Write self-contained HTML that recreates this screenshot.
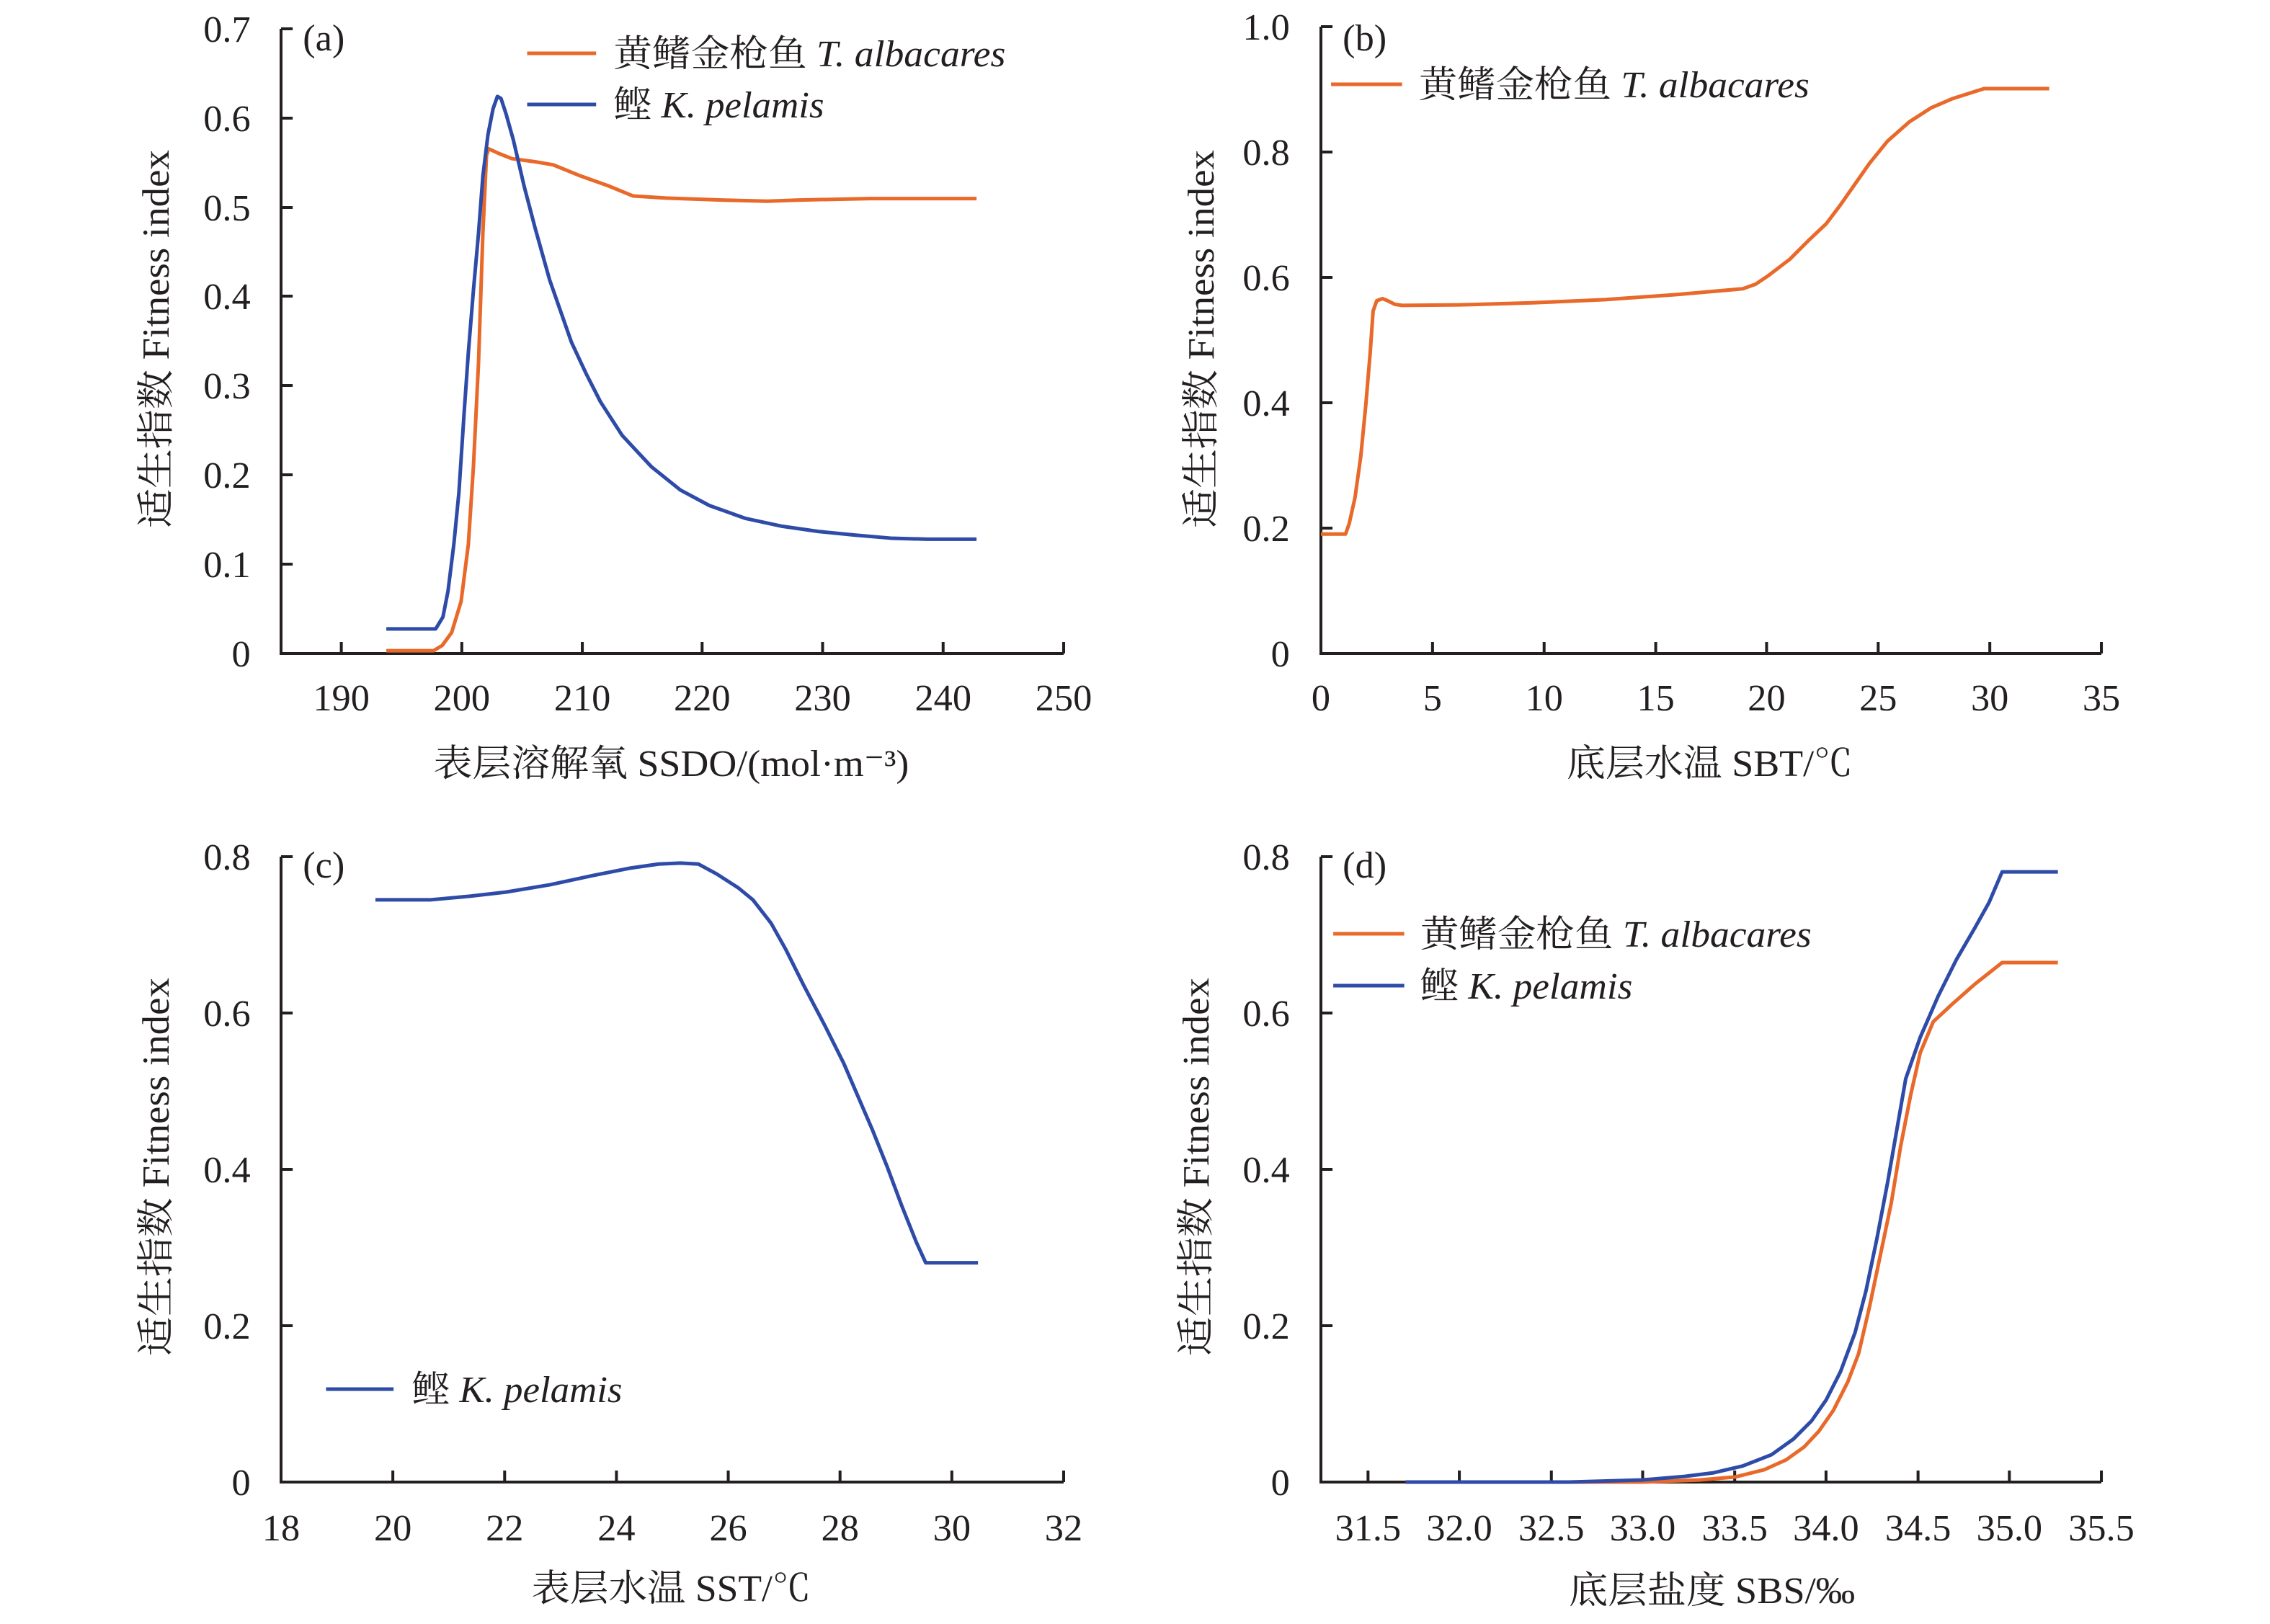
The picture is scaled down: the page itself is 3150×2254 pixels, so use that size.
<!DOCTYPE html>
<html><head><meta charset="utf-8"><style>
html,body{margin:0;padding:0;background:#fff;}
svg{display:block;}
text{font-family:"Liberation Serif","Noto Serif CJK SC",serif;fill:#231f20;}
.t{font-size:52px;}
.ax{stroke:#231f20;stroke-width:4;fill:none;}
.cv{fill:none;stroke-width:5;stroke-linejoin:round;}
.o{stroke:#e8692a;}
.b{stroke:#2e4ba8;}
</style></head><body>
<svg width="3150" height="2254" viewBox="0 0 3150 2254" xmlns="http://www.w3.org/2000/svg">

<!-- PANEL A -->
<g transform="translate(390,0) scale(1.0074,1) translate(-390,0)">
<g class="ax">
<path d="M390,40 V907 H1468"/>
<path d="M390,40 h16 M390,164 h16 M390,288 h16 M390,411 h16 M390,535 h16 M390,659 h16 M390,783 h16"/>
<path d="M473,907 v-16 M639,907 v-16 M805,907 v-16 M970,907 v-16 M1136,907 v-16 M1302,907 v-16 M1468,907 v-16"/>
</g>
<g class="cv" transform="scale(1,0.7196)">
<polyline vector-effect="non-scaling-stroke" class="o" points="535,1255 600,1255 612,1245 625,1220 638,1160 648,1050 655,900 662,700 668,450 673,300 676,287 690,296 708,306 740,312 765,318 800,338 840,358 875,378 920,382 1000,386 1060,388 1100,386 1200,383 1348,383"/>
<polyline vector-effect="non-scaling-stroke" class="b" points="535,1213 603,1213 613,1190 620,1140 628,1050 635,950 642,800 648,680 655,560 662,450 668,340 675,260 682,210 688,186 693,190 700,220 710,270 725,360 740,440 760,540 775,600 790,660 810,720 830,775 860,840 900,900 940,945 980,975 1030,1000 1080,1015 1130,1025 1180,1032 1230,1038 1280,1040 1348,1040"/>
</g>
<path class="cv o" d="M729,74 H824"/>
<path class="cv b" d="M729,145 H824"/>
<g class="t">
<g text-anchor="end">
<text x="348" y="925">0</text><text x="348" y="801">0.1</text><text x="348" y="677">0.2</text><text x="348" y="553">0.3</text><text x="348" y="429">0.4</text><text x="348" y="306">0.5</text><text x="348" y="182">0.6</text><text x="348" y="58">0.7</text>
</g>
<g text-anchor="middle">
<text x="473" y="986">190</text><text x="639" y="986">200</text><text x="805" y="986">210</text><text x="970" y="986">220</text><text x="1136" y="986">230</text><text x="1302" y="986">240</text><text x="1468" y="986">250</text>
</g>
<text x="600" y="1077" textLength="655" lengthAdjust="spacingAndGlyphs">表层溶解氧 SSDO/(mol·m⁻³)</text>
<text transform="translate(235,733) rotate(-90)" textLength="525" lengthAdjust="spacingAndGlyphs">适生指数 Fitness index</text>
<text x="420" y="70">(a)</text>
<text x="848" y="92" textLength="540" lengthAdjust="spacingAndGlyphs">黄鳍金枪鱼 <tspan font-style="italic">T. albacares</tspan></text>
<text x="848" y="163" textLength="290" lengthAdjust="spacingAndGlyphs">鲣 <tspan font-style="italic">K. pelamis</tspan></text>
</g>
</g>

<!-- PANEL B -->
<g transform="translate(1833,0) scale(1.0056,1) translate(-1833,0)">
<g class="ax">
<path d="M1833,37 V907 H2910"/>
<path d="M1833,37 h16 M1833,211 h16 M1833,385 h16 M1833,559 h16 M1833,733 h16"/>
<path d="M1987,907 v-16 M2141,907 v-16 M2295,907 v-16 M2448,907 v-16 M2602,907 v-16 M2756,907 v-16 M2910,907 v-16"/>
</g>
<g class="cv" transform="translate(1575,0) scale(1,0.7196)">
<polyline vector-effect="non-scaling-stroke" class="o" points="258,1030 292,1030 297,1010 305,960 313,880 320,780 326,680 330,600 335,580 343,576 350,580 360,587 370,589 450,588 550,584 650,578 750,568 840,557 858,548 875,532 905,500 930,465 955,432 975,395 995,355 1015,315 1040,272 1070,235 1100,208 1130,190 1173,171 1263,171"/>
</g>
<path class="cv o" d="M1847,117 H1945"/>
<g class="t">
<g text-anchor="end">
<text x="1790" y="925">0</text><text x="1790" y="751">0.2</text><text x="1790" y="577">0.4</text><text x="1790" y="403">0.6</text><text x="1790" y="229">0.8</text><text x="1790" y="55">1.0</text>
</g>
<g text-anchor="middle">
<text x="1833" y="986">0</text><text x="1987" y="986">5</text><text x="2141" y="986">10</text><text x="2295" y="986">15</text><text x="2448" y="986">20</text><text x="2602" y="986">25</text><text x="2756" y="986">30</text><text x="2910" y="986">35</text>
</g>
<text x="2172" y="1077" textLength="395" lengthAdjust="spacingAndGlyphs">底层水温 SBT/℃</text>
<text transform="translate(1685,733) rotate(-90)" textLength="525" lengthAdjust="spacingAndGlyphs">适生指数 Fitness index</text>
<text x="1863" y="70">(b)</text>
<text x="1968" y="135" textLength="539" lengthAdjust="spacingAndGlyphs">黄鳍金枪鱼 <tspan font-style="italic">T. albacares</tspan></text>
</g>
</g>

<!-- PANEL C -->
<g transform="translate(390,-4) scale(1.0074,1) translate(-390,0)">
<g class="ax">
<path d="M390,1193 V2061 H1468"/>
<path d="M390,1193 h16 M390,1410 h16 M390,1627 h16 M390,1844 h16"/>
<path d="M544,2061 v-16 M698,2061 v-16 M852,2061 v-16 M1006,2061 v-16 M1160,2061 v-16 M1314,2061 v-16 M1468,2061 v-16"/>
</g>
<g class="cv" transform="translate(0,1127) scale(1,0.7196)">
<polyline vector-effect="non-scaling-stroke" class="b" points="520,175 595,175 650,168 700,160 760,146 820,128 870,114 910,106 940,104 965,106 990,125 1020,152 1040,175 1065,220 1085,270 1110,340 1140,420 1165,490 1185,555 1205,620 1225,690 1245,765 1265,835 1278,875 1350,875"/>
</g>
<path class="cv b" d="M452,1932 H545"/>
<g class="t">
<g text-anchor="end">
<text x="348" y="2079">0</text><text x="348" y="1862">0.2</text><text x="348" y="1645">0.4</text><text x="348" y="1428">0.6</text><text x="348" y="1211">0.8</text>
</g>
<g text-anchor="middle">
<text x="390" y="2142">18</text><text x="544" y="2142">20</text><text x="698" y="2142">22</text><text x="852" y="2142">24</text><text x="1006" y="2142">26</text><text x="1160" y="2142">28</text><text x="1314" y="2142">30</text><text x="1468" y="2142">32</text>
</g>
<text x="735" y="2226" textLength="385" lengthAdjust="spacingAndGlyphs">表层水温 SST/℃</text>
<text transform="translate(235,1886) rotate(-90)" textLength="525" lengthAdjust="spacingAndGlyphs">适生指数 Fitness index</text>
<text x="420" y="1222">(c)</text>
<text x="570" y="1950" textLength="290" lengthAdjust="spacingAndGlyphs">鲣 <tspan font-style="italic">K. pelamis</tspan></text>
</g>
</g>

<!-- PANEL D -->
<g transform="translate(1833,-4) scale(1.0056,1) translate(-1833,0)">
<g class="ax">
<path d="M1833,1193 V2061 H2910"/>
<path d="M1833,1193 h16 M1833,1410 h16 M1833,1627 h16 M1833,1844 h16"/>
<path d="M1898,2061 v-16 M2024,2061 v-16 M2151,2061 v-16 M2277,2061 v-16 M2404,2061 v-16 M2530,2061 v-16 M2657,2061 v-16 M2783,2061 v-16 M2910,2061 v-16"/>
</g>
<g class="cv" transform="translate(1575,1127) scale(1,0.7196)">
<polyline vector-effect="non-scaling-stroke" class="o" points="375,1298 700,1298 780,1294 830,1288 870,1274 900,1255 925,1230 945,1200 965,1160 985,1105 1000,1050 1015,960 1030,860 1045,760 1058,650 1072,550 1085,470 1103,410 1130,375 1160,338 1198,296 1275,296"/>
<polyline vector-effect="non-scaling-stroke" class="b" points="375,1298 600,1298 700,1294 760,1287 800,1280 840,1267 880,1245 910,1215 935,1180 955,1140 975,1085 995,1010 1010,930 1025,830 1040,720 1050,640 1065,520 1085,440 1110,360 1135,290 1160,230 1180,180 1198,121 1275,121"/>
</g>
<path class="cv o" d="M1850,1300 H1948"/>
<path class="cv b" d="M1850,1372 H1948"/>
<g class="t">
<g text-anchor="end">
<text x="1790" y="2079">0</text><text x="1790" y="1862">0.2</text><text x="1790" y="1645">0.4</text><text x="1790" y="1428">0.6</text><text x="1790" y="1211">0.8</text>
</g>
<g text-anchor="middle">
<text x="1898" y="2142">31.5</text><text x="2024" y="2142">32.0</text><text x="2151" y="2142">32.5</text><text x="2277" y="2142">33.0</text><text x="2404" y="2142">33.5</text><text x="2530" y="2142">34.0</text><text x="2657" y="2142">34.5</text><text x="2783" y="2142">35.0</text><text x="2910" y="2142">35.5</text>
</g>
<text x="2175" y="2229" textLength="395" lengthAdjust="spacingAndGlyphs">底层盐度 SBS/‰</text>
<text transform="translate(1678,1886) rotate(-90)" textLength="525" lengthAdjust="spacingAndGlyphs">适生指数 Fitness index</text>
<text x="1863" y="1222">(d)</text>
<text x="1970" y="1318" textLength="540" lengthAdjust="spacingAndGlyphs">黄鳍金枪鱼 <tspan font-style="italic">T. albacares</tspan></text>
<text x="1970" y="1390" textLength="293" lengthAdjust="spacingAndGlyphs">鲣 <tspan font-style="italic">K. pelamis</tspan></text>
</g>
</g>
</svg>
</body></html>
